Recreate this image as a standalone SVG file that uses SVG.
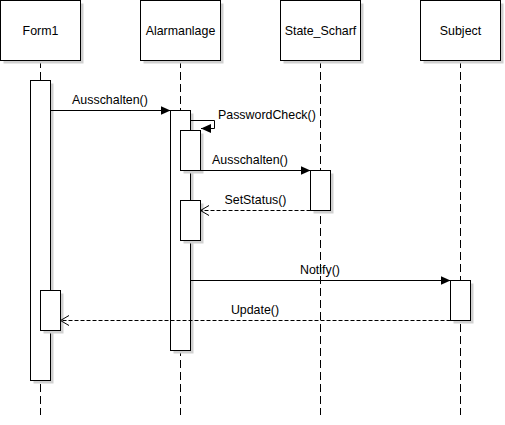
<svg xmlns="http://www.w3.org/2000/svg" width="505" height="425" viewBox="0 0 505 425">
<style>
.box{fill:#fff;stroke:#000;stroke-width:1}
.sh{fill:#d0d0d0;stroke:none}
.life{stroke:#000;stroke-width:1;stroke-dasharray:8 4;fill:none}
.msg{stroke:#000;stroke-width:1;fill:none}
.ret{stroke:#000;stroke-width:1;fill:none;stroke-dasharray:4 2}
text{font-family:"Liberation Sans",Arial,sans-serif;font-size:12.4px;fill:#000}
.c{text-anchor:middle}
</style>
<defs>
<marker id="blk" viewBox="0 0 10 10" refX="10" refY="5" markerWidth="10" markerHeight="10" markerUnits="userSpaceOnUse" orient="auto">
<path d="M0,0.5 L10,5 L0,9.5 Z" fill="#000"/>
</marker>
<marker id="open" viewBox="0 0 10 12" refX="9.5" refY="6" markerWidth="10" markerHeight="12" markerUnits="userSpaceOnUse" orient="auto">
<path d="M1,1 L9.5,6 L1,11" fill="none" stroke="#000" stroke-width="1"/>
</marker>
</defs>
<g id="lifelines">
<line class="life" x1="40.5" y1="60" x2="40.5" y2="415"/>
<line class="life" x1="180.5" y1="60" x2="180.5" y2="415"/>
<line class="life" x1="320.5" y1="60" x2="320.5" y2="415"/>
<line class="life" x1="460.5" y1="60" x2="460.5" y2="415"/>
</g>
<g id="form1">
<rect class="sh" x="3.5" y="3.5" width="80" height="60"/>
<rect class="box" x="0.5" y="0.5" width="80" height="60"/>
<text class="c" x="40.5" y="34.5">Form1</text>
</g>
<g id="alarmanlage">
<rect class="sh" x="143.5" y="3.5" width="80" height="60"/>
<rect class="box" x="140.5" y="0.5" width="80" height="60"/>
<text class="c" x="180.5" y="34.5">Alarmanlage</text>
</g>
<g id="state_scharf">
<rect class="sh" x="283.5" y="3.5" width="80" height="60"/>
<rect class="box" x="280.5" y="0.5" width="80" height="60"/>
<text class="c" x="320.5" y="34.5">State_Scharf</text>
</g>
<g id="subject">
<rect class="sh" x="423.5" y="3.5" width="80" height="60"/>
<rect class="box" x="420.5" y="0.5" width="80" height="60"/>
<text class="c" x="460.5" y="34.5">Subject</text>
</g>
<g id="act_form1">
<rect class="sh" x="33.5" y="83.5" width="20" height="300"/>
<rect class="box" x="30.5" y="80.5" width="20" height="300"/>
</g>
<g id="act_form1_update">
<rect class="sh" x="43.5" y="293.5" width="20" height="40"/>
<rect class="box" x="40.5" y="290.5" width="20" height="40"/>
</g>
<g id="act_alarm">
<rect class="sh" x="173.5" y="113.5" width="20" height="240"/>
<rect class="box" x="170.5" y="110.5" width="20" height="240"/>
</g>
<g id="act_alarm_pw">
<rect class="sh" x="183.5" y="133.5" width="20" height="40"/>
<rect class="box" x="180.5" y="130.5" width="20" height="40"/>
</g>
<g id="act_alarm_status">
<rect class="sh" x="183.5" y="203.5" width="20" height="40"/>
<rect class="box" x="180.5" y="200.5" width="20" height="40"/>
</g>
<g id="act_state">
<rect class="sh" x="313.5" y="173.5" width="20" height="40"/>
<rect class="box" x="310.5" y="170.5" width="20" height="40"/>
</g>
<g id="act_subject">
<rect class="sh" x="453.5" y="283.5" width="20" height="40"/>
<rect class="box" x="450.5" y="280.5" width="20" height="40"/>
</g>
<g id="connectors">
<line class="msg" x1="50.5" y1="110.5" x2="170.5" y2="110.5" marker-end="url(#blk)"/>
<text class="c" x="110" y="104">Ausschalten()</text>
<path class="msg" d="M190.5,120.5 H214.5 V128.5 H201" marker-end="url(#blk)"/>
<text x="218" y="119">PasswordCheck()</text>
<line class="msg" x1="200.5" y1="170.5" x2="310.5" y2="170.5" marker-end="url(#blk)"/>
<text class="c" x="250" y="164">Ausschalten()</text>
<line class="ret" x1="310.5" y1="210.5" x2="200.5" y2="210.5" marker-end="url(#open)"/>
<text class="c" x="255.5" y="204">SetStatus()</text>
<line class="msg" x1="190.5" y1="280.5" x2="450.5" y2="280.5" marker-end="url(#blk)"/>
<text class="c" x="320" y="274">Notify()</text>
<line class="ret" x1="450.5" y1="320.5" x2="60.5" y2="320.5" marker-end="url(#open)"/>
<text class="c" x="255" y="314">Update()</text>
</g>
</svg>
